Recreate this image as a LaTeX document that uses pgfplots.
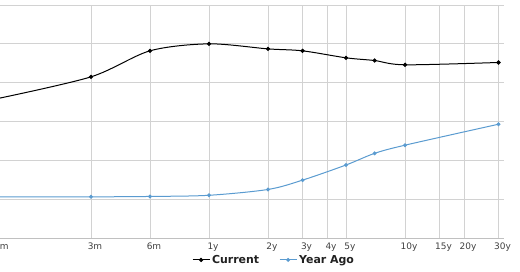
\documentclass[border=0pt]{standalone}
\usepackage{pgfplots}
\pgfplotsset{compat=1.18}
\usepackage{fontspec}
\setmainfont{DejaVu Sans}
\definecolor{gridc}{HTML}{D2D2D2}
\definecolor{axc}{HTML}{C0C0C0}
\definecolor{yablue}{HTML}{5A9BD0}
\definecolor{labc}{HTML}{404040}
\definecolor{legc}{HTML}{222222}
\begin{document}
\begin{tikzpicture}
\useasboundingbox (2.5bp,-34bp) rectangle (522.5bp,238bp);
\clip (2.5bp,-34bp) rectangle (522.5bp,238bp);
\begin{axis}[
  at={(0,0)}, anchor=south west,
  scale only axis, width=506.5bp, height=233bp,
  xmode=log, log basis x=2,
  xmin=0.083333, xmax=32, ymin=0, ymax=6,
  xtick={0.083333,0.25,0.5,1,2,3,4,5,10,15,20,30},
  xticklabels={1m,3m,6m,1y,2y,3y,4y,5y,10y,15y,20y,30y},
  ytick={0,1,2,3,4,5,6}, yticklabels={},
  grid=major, grid style={gridc, line width=0.9bp},
  axis x line*=bottom, axis y line*=left,
  x axis line style={axc, line width=1bp, -},
  y axis line style={draw=none},
  major tick length=0,
  xticklabel style={font=\fontsize{9}{10}\selectfont, text=labc, xshift=4bp, yshift=-1bp},
  legend style={at={(0.546,-0.094)}, anchor=center, draw=none, fill=none,
    font=\fontsize{11}{12}\selectfont\bfseries, text=legc, legend columns=2,
    /tikz/every even column/.append style={column sep=18bp}},
]
\addplot[black, line width=1bp, smooth, tension=0.5, mark=*, mark size=1.6bp, mark options={fill=black}]
  coordinates {(0.083333,3.59) (0.25,4.15) (0.5,4.82) (1,5.00) (2,4.87) (3,4.82) (5,4.64) (7,4.57) (10,4.46) (30,4.52)};
\addlegendentry{Current}
\addplot[yablue, line width=1bp, smooth, tension=0.5, mark=*, mark size=1.4bp, mark options={fill=yablue}]
  coordinates {(0.083333,1.06) (0.25,1.06) (0.5,1.07) (1,1.10) (2,1.25) (3,1.49) (5,1.88) (7,2.18) (10,2.39) (30,2.93)};
\addlegendentry{Year Ago}
\end{axis}
\end{tikzpicture}
\end{document}
